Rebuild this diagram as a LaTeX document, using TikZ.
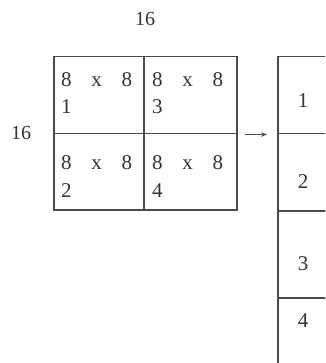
\documentclass[tikz,border=0pt]{standalone}
\usepackage{fontspec}
\setmainfont{Liberation Serif}
\usetikzlibrary{arrows.meta}
\definecolor{ink}{RGB}{75,75,75}
\definecolor{txt}{RGB}{50,50,50}
\tikzset{
  cell/.style={draw=ink, line width=1.5pt, inner sep=0pt, anchor=north west},
  lbl/.style={text=txt, inner sep=0pt, font=\fontsize{21}{25}\selectfont},
  dim/.style={text=txt, inner sep=0pt, font=\fontsize{20}{24}\selectfont},
}
\newcommand{\eightxeight}{\makebox[71pt][s]{8\hfil x\hfil 8}}
\begin{document}
\begin{tikzpicture}[x=1pt,y=-1pt]
\useasboundingbox (0,0) rectangle (325,363);
\clip (0,0) rectangle (325,363);
% left grid
\node[cell, minimum width=90pt, minimum height=77pt] (c1) at (53,56) {};
\node[cell, minimum width=93pt, minimum height=77pt] (c3) at (143,56) {};
\node[cell, minimum width=90pt, minimum height=76pt] (c2) at (53,133) {};
\node[cell, minimum width=93pt, minimum height=76pt] (c4) at (143,133) {};
% cell texts
\node[lbl, anchor=base west] (t1a) at (61,87) {\eightxeight};
\node[lbl, anchor=base west] (t1b) at (61,114) {1};
\node[lbl, anchor=base west] (t3a) at (152,87) {\eightxeight};
\node[lbl, anchor=base west] (t3b) at (152,114) {3};
\node[lbl, anchor=base west] (t2a) at (61,170) {\eightxeight};
\node[lbl, anchor=base west] (t2b) at (61,197) {2};
\node[lbl, anchor=base west] (t4a) at (152,170) {\eightxeight};
\node[lbl, anchor=base west] (t4b) at (152,197) {4};
% dimensions
\node[dim, anchor=base] (dtop) at (145,26) {16};
\node[dim, anchor=base] (dleft) at (21,140) {16};
% right column
\node[cell, minimum width=80pt, minimum height=77pt] (r1) at (277,56) {};
\node[cell, minimum width=80pt, minimum height=77pt] (r2) at (277,133) {};
\node[cell, minimum width=80pt, minimum height=87pt] (r3) at (277,210) {};
\node[cell, minimum width=80pt, minimum height=90pt] (r4) at (277,297) {};
\node[lbl, anchor=base] (n1) at (303,108) {1};
\node[lbl, anchor=base] (n2) at (303,188) {2};
\node[lbl, anchor=base] (n3) at (303,270) {3};
\node[lbl, anchor=base] (n4) at (303,327) {4};
% arrow
\draw[draw=ink, line width=1.1pt, -{Stealth[length=6pt,width=4.5pt]}, shorten <=7pt, shorten >=10pt]
  (c3.south east) -- (c3.south east -| r1.west);
\end{tikzpicture}
\end{document}
